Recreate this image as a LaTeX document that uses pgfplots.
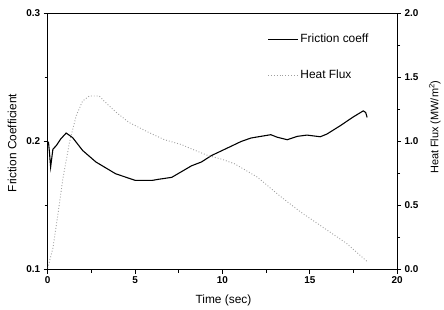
\documentclass[border=0pt]{standalone}
\usepackage{fontspec}
\setmainfont{Liberation Sans}
\usepackage{pgfplots}
\pgfplotsset{compat=1.18}
\begin{document}
\begin{tikzpicture}[x=1pt,y=1pt]
\begin{axis}[
  name=main,
  scale only axis, width=352pt, height=258pt,
  xmin=0, xmax=20, ymin=0.1, ymax=0.3,
  xtick={0,5,10,15,20}, minor xtick={2.5,7.5,12.5,17.5},
  ytick={0.1,0.2,0.3}, minor ytick={0.15,0.25},
  xtick pos=bottom, ytick pos=left,
  tick align=outside,
  major tick length=4pt, minor tick length=3pt,
  axis line style={line width=1.3pt},
  every tick/.style={line width=0.9pt, black},
  /pgf/number format/assume math mode=true,
  yticklabel style={/pgf/number format/.cd, fixed, fixed zerofill, precision=1},
  ticklabel style={font=\bfseries\fontsize{10}{10}\selectfont},
  xlabel={Time (sec)}, ylabel={Friction Coefficient},
  label style={font=\fontsize{12}{12}\selectfont},
  xlabel style={at={(axis description cs:0.503,-0.122)}, anchor=center},
  ylabel style={at={(axis description cs:-0.102,0.494)}, anchor=center},
]
\addplot[black, line width=1.1pt] coordinates {
(0,0.200) (0.05,0.199) (0.1,0.192) (0.17,0.180) (0.3,0.194) (0.49,0.1967)
(0.75,0.202) (1.06,0.2066) (1.43,0.203) (2.0,0.193) (2.76,0.184)
(3.89,0.1748) (5.02,0.1696) (5.97,0.1696) (6.35,0.1705) (7.1,0.172)
(8.23,0.181) (8.8,0.184) (9.37,0.189) (10.3,0.195) (11.07,0.200)
(11.63,0.2027) (12.2,0.204) (12.77,0.2053) (13.14,0.2033) (13.71,0.2014)
(14.28,0.204) (14.84,0.205) (15.6,0.2037) (15.98,0.2058) (16.73,0.2122)
(17.49,0.2192) (18.06,0.2239) (18.2,0.2226) (18.28,0.2188)
};
\end{axis}
\begin{axis}[
  scale only axis, width=352pt, height=258pt,
  xmin=0, xmax=20, ymin=0, ymax=2,
  axis x line=none, axis y line*=right,
  ytick={0,0.5,1,1.5,2}, minor ytick={0.25,0.75,1.25,1.75},
  tick align=outside,
  major tick length=4pt, minor tick length=3pt,
  axis line style={line width=1.3pt},
  every tick/.style={line width=0.9pt, black},
  /pgf/number format/assume math mode=true,
  yticklabel style={/pgf/number format/.cd, fixed, fixed zerofill, precision=1},
  ticklabel style={font=\bfseries\fontsize{10}{10}\selectfont},
  ylabel={Heat Flux (MW/m\textsuperscript{2})},
  label style={font=\fontsize{11}{11}\selectfont},
  ylabel style={at={(axis description cs:1.108,0.556)}, anchor=center},
  legend style={at={(0.62,0.935)}, anchor=north west, draw=none, fill=none,
    font=\fontsize{12}{12}\selectfont, row sep=22pt},
  legend cell align=left,
  legend image code/.code={\draw[#1] (0pt,0pt) -- (30pt,0pt);},
]
\addlegendimage{black, line width=1.1pt}
\addlegendentry{Friction coeff}
\addplot[gray!75, dotted, line width=0.9pt] coordinates {
(0,0.01) (0.3,0.167) (0.58,0.425) (0.87,0.709) (1.25,0.994) (1.63,1.2)
(2.0,1.316) (2.38,1.355) (2.95,1.355) (3.23,1.316) (3.89,1.231)
(4.65,1.149) (5.78,1.071) (6.68,1.014) (7.67,0.975) (8.23,0.942)
(9.18,0.89) (10.0,0.86) (10.69,0.826) (12.0,0.722) (13.24,0.58)
(13.6,0.541) (14.46,0.451) (15.98,0.309) (17.1,0.205) (18.3,0.06)
};
\addlegendentry{Heat Flux}
\end{axis}
\path ([xshift=-48pt,yshift=-40.5pt]main.south west) rectangle ([xshift=44pt,yshift=13.5pt]main.north east);
\end{tikzpicture}
\end{document}
